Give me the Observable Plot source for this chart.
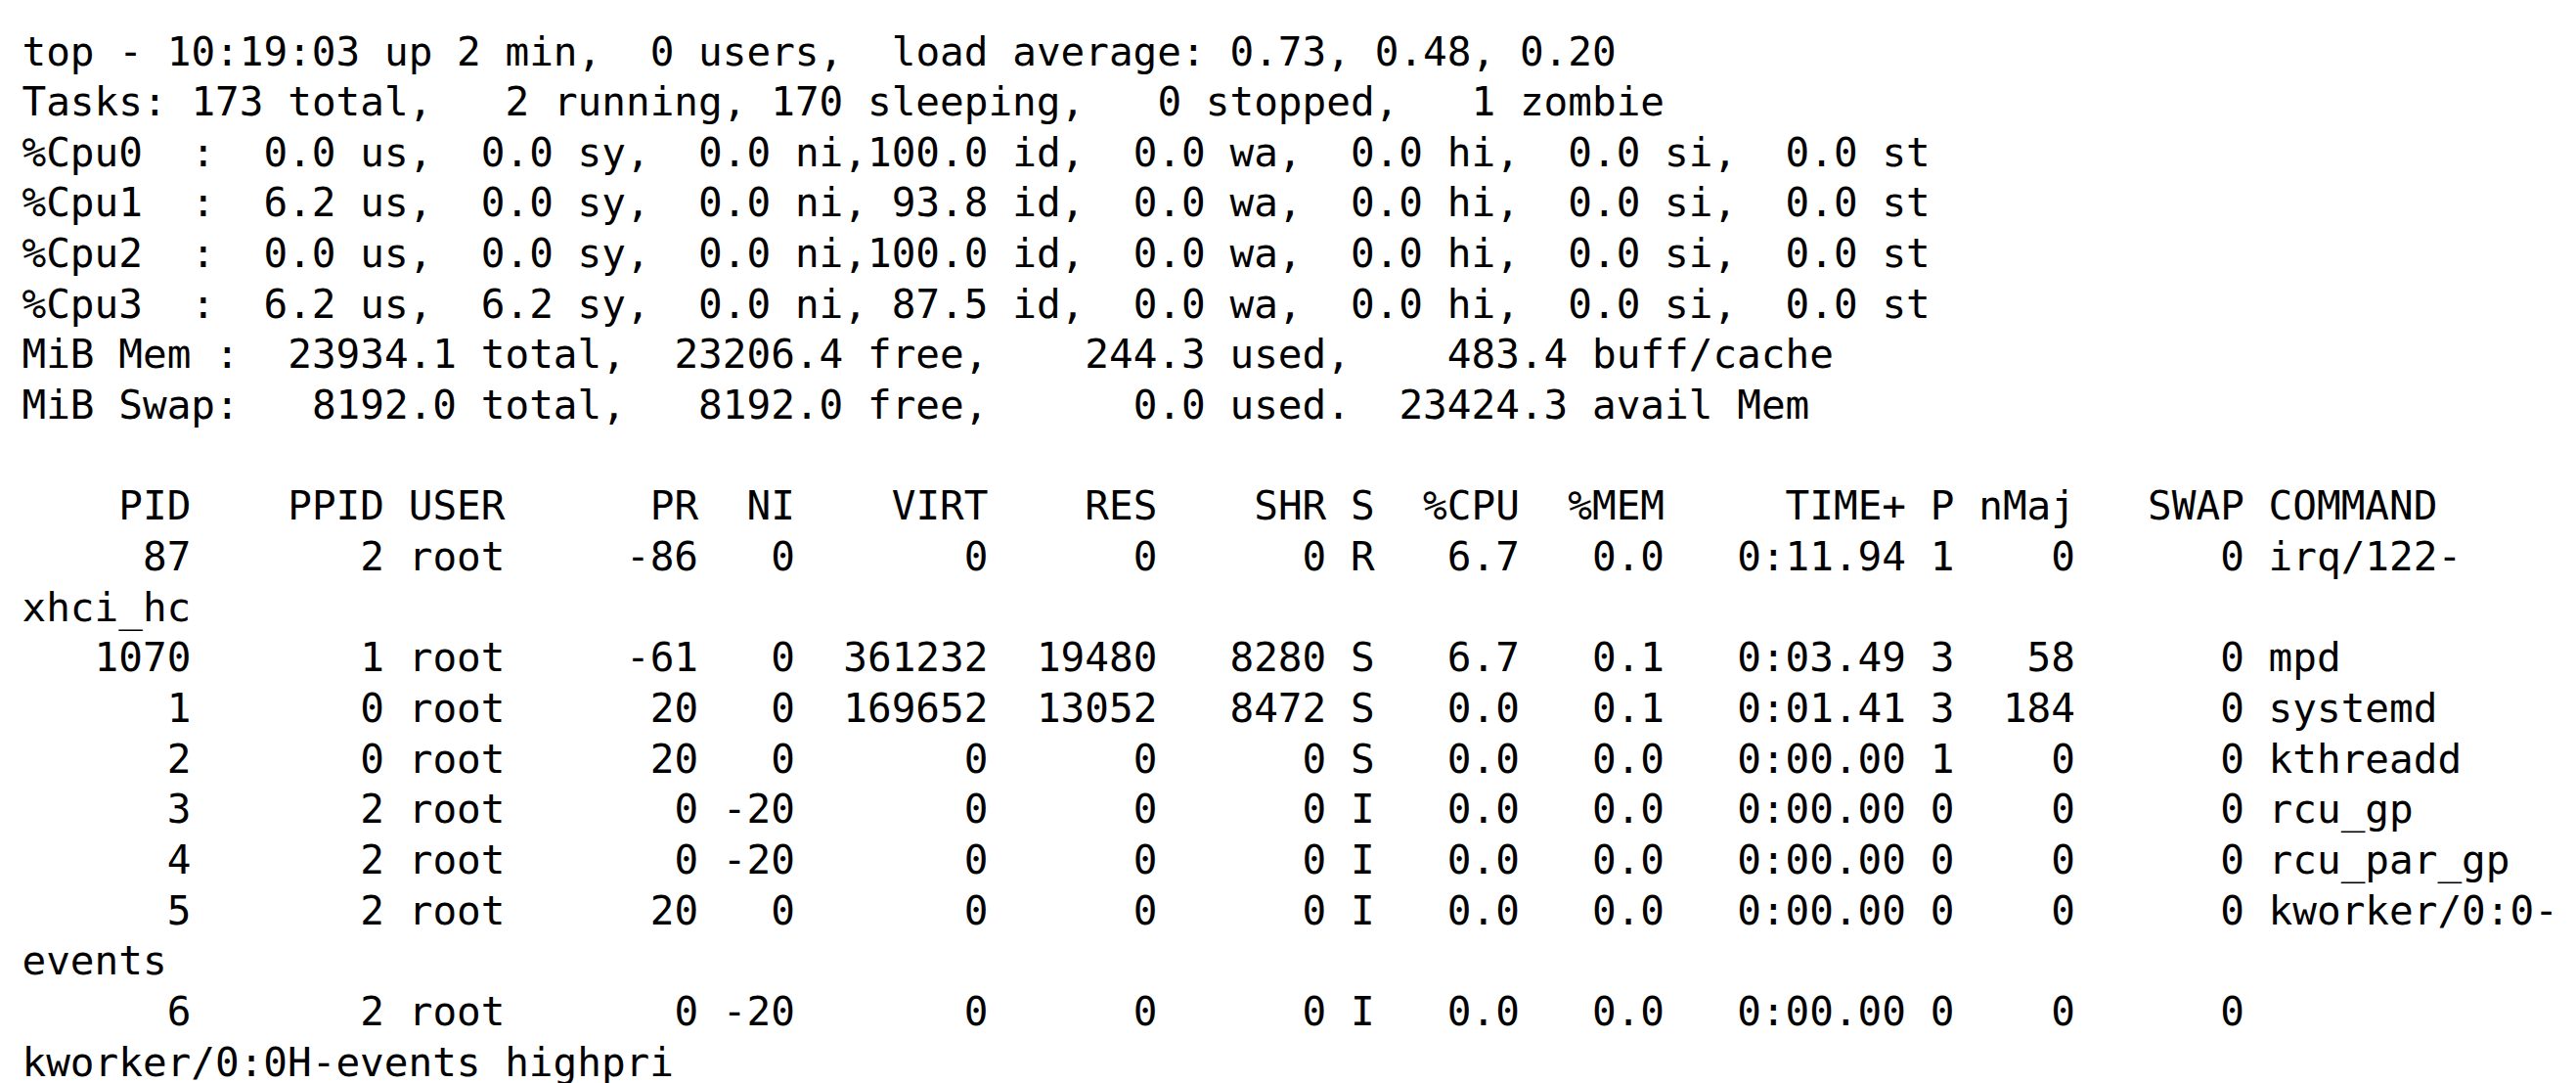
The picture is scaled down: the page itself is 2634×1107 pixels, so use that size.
<!DOCTYPE html>
<html>
<head>
<meta charset="utf-8">
<script src="https://cdn.jsdelivr.net/npm/d3@7"></script>
<script src="https://cdn.jsdelivr.net/npm/@observablehq/plot@0.6"></script>
<style>
  html, body { margin: 0; padding: 0; background: #ffffff; }
  svg { display: block; }
</style>
</head>
<body>
<script>
// ---- summary area ----
const clock = "10:19:03";
const uptime = "2 min";
const users = 0;
const loadAverage = [0.73, 0.48, 0.20];

const taskLabels = ["total", "running", "sleeping", "stopped", "zombie"];
const taskCounts = [173, 2, 170, 0, 1];

const cpuNames = ["%Cpu0", "%Cpu1", "%Cpu2", "%Cpu3"];
const cpuFields = ["us", "sy", "ni", "id", "wa", "hi", "si", "st"];
const cpu0 = [0.0, 0.0, 0.0, 100.0, 0.0, 0.0, 0.0, 0.0];
const cpu1 = [6.2, 0.0, 0.0, 93.8, 0.0, 0.0, 0.0, 0.0];
const cpu2 = [0.0, 0.0, 0.0, 100.0, 0.0, 0.0, 0.0, 0.0];
const cpu3 = [6.2, 6.2, 0.0, 87.5, 0.0, 0.0, 0.0, 0.0];

const memLabels = ["total", "free", "used", "buff/cache"];
const memValues = [23934.1, 23206.4, 244.3, 483.4];
const swapLabels = ["total", "free", "used", "avail Mem"];
const swapValues = [8192.0, 8192.0, 0.0, 23424.3];

// ---- process table ----
const headers = ["PID", "PPID", "USER", "PR", "NI", "VIRT", "RES", "SHR", "S", "%CPU", "%MEM", "TIME+", "P", "nMaj", "SWAP", "COMMAND"];
const pid     = [87, 1070, 1, 2, 3, 4, 5, 6];
const ppid    = [2, 1, 0, 0, 2, 2, 2, 2];
const user    = ["root", "root", "root", "root", "root", "root", "root", "root"];
const pr      = [-86, -61, 20, 20, 0, 0, 20, 0];
const ni      = [0, 0, 0, 0, -20, -20, 0, -20];
const virt    = [0, 361232, 169652, 0, 0, 0, 0, 0];
const res     = [0, 19480, 13052, 0, 0, 0, 0, 0];
const shr     = [0, 8280, 8472, 0, 0, 0, 0, 0];
const state   = ["R", "S", "S", "S", "I", "I", "I", "I"];
const cpuPct  = [6.7, 6.7, 0.0, 0.0, 0.0, 0.0, 0.0, 0.0];
const memPct  = [0.0, 0.1, 0.1, 0.0, 0.0, 0.0, 0.0, 0.0];
const timePlus = ["0:11.94", "0:03.49", "0:01.41", "0:00.00", "0:00.00", "0:00.00", "0:00.00", "0:00.00"];
const proc    = [1, 3, 3, 1, 0, 0, 0, 0];
const nMaj    = [0, 58, 184, 0, 0, 0, 0, 0];
const swap    = [0, 0, 0, 0, 0, 0, 0, 0];
const command = ["irq/122-xhci_hc", "mpd", "systemd", "kthreadd", "rcu_gp", "rcu_par_gp", "kworker/0:0-events", "kworker/0:0H-events_highpri"];

// ---- build terminal lines ----
const L = (v, w) => String(v).padStart(w);
const R = (v, w) => String(v).padEnd(w);
const f1 = v => v.toFixed(1);

const lines = [];
lines.push(`top - ${clock} up ${uptime},  ${users} users,  load average: ${loadAverage.map(v => v.toFixed(2)).join(", ")}`);
lines.push("Tasks: " + taskLabels.map((lab, i) => `${L(taskCounts[i], i === 0 ? 3 : 4)} ${lab}`).join(",").trimStart());
const cpuRows = [cpu0, cpu1, cpu2, cpu3];
cpuNames.forEach((name, c) => {
  lines.push(`${R(name, 7)}:` + cpuFields.map((fld, k) => `${L(f1(cpuRows[c][k]), 5)} ${fld}`).join(","));
});
lines.push("MiB Mem : " + memLabels.map((lab, i) => `${L(f1(memValues[i]), 8)} ${lab}`).join(", "));
lines.push("MiB Swap: " + L(f1(swapValues[0]), 8) + " " + swapLabels[0] + ", " +
  L(f1(swapValues[1]), 8) + " " + swapLabels[1] + ", " +
  L(f1(swapValues[2]), 8) + " " + swapLabels[2] + ". " +
  L(f1(swapValues[3]), 8) + " " + swapLabels[3]);
lines.push("");

const widths = [7, 7, -8, 3, 3, 7, 6, 6, 1, 5, 5, 9, 1, 4, 6, 0];
const fmtRow = cells => cells.map((c, k) => widths[k] < 0 ? R(c, -widths[k]) : (widths[k] === 0 ? String(c) : L(c, widths[k]))).join(" ");
lines.push(fmtRow(headers));

const termCols = 105;
function wrap(line) {
  if (line.length <= termCols) return [line];
  for (let b = termCols; b > 0; b--) {
    if (line[b] === " ") return [line.slice(0, b), ...wrap(line.slice(b + 1))];
    if (line[b - 1] === "-") return [line.slice(0, b), ...wrap(line.slice(b))];
  }
  return [line.slice(0, termCols), ...wrap(line.slice(termCols))];
}

pid.forEach((_, i) => {
  const row = fmtRow([pid[i], ppid[i], user[i], pr[i], ni[i], virt[i], res[i], shr[i], state[i],
    f1(cpuPct[i]), f1(memPct[i]), timePlus[i], proc[i], nMaj[i], swap[i], command[i]]);
  wrap(row).forEach(l => lines.push(l));
});

// tokens placed on a character grid
const tokens = [];
lines.forEach((line, li) => {
  for (const m of line.matchAll(/\S+/g)) tokens.push({line: li, col: m.index, text: m[0]});
});

const charW = 24.7;
const x0 = 22;
const chart = Plot.plot({
  width: 2634,
  height: 1107,
  margin: 0,
  style: {background: "#ffffff"},
  x: {domain: [0, termCols], range: [x0, x0 + termCols * charW], axis: null},
  y: {domain: [0, 20], range: [66, 1099], axis: null},
  marks: [
    Plot.text(tokens, {
      x: "col", y: "line", text: "text",
      textAnchor: "start", lineAnchor: "bottom",
      fontFamily: "DejaVu Sans Mono", fontSize: 41, fill: "#000000"
    })
  ]
});
document.body.appendChild(chart);
</script>
</body>
</html>
